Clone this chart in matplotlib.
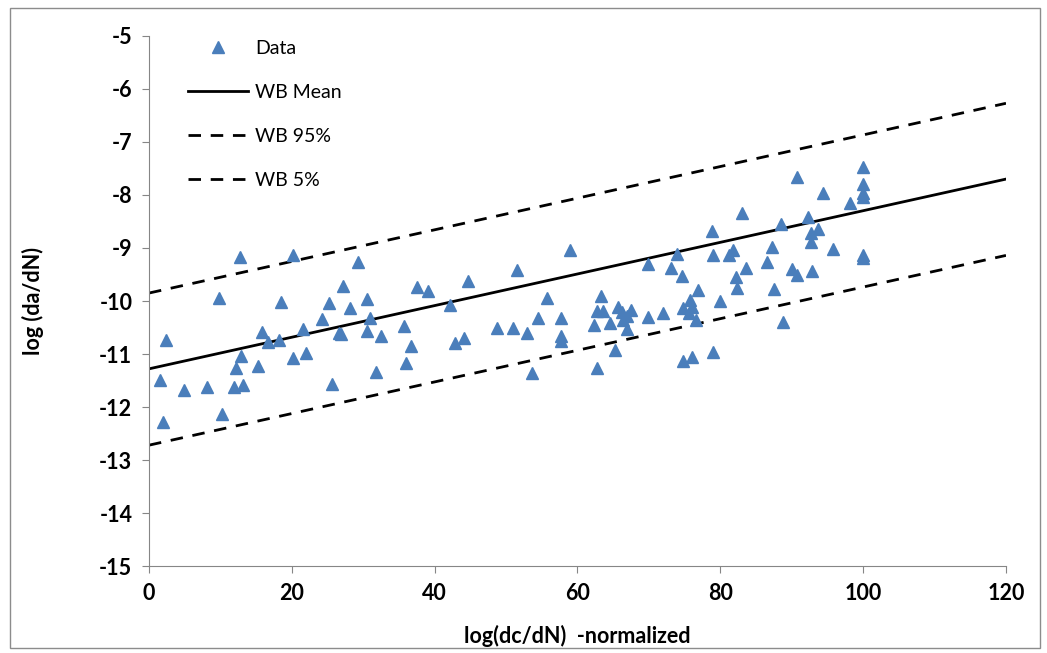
import matplotlib
matplotlib.use('Agg')
import matplotlib.pyplot as plt
from matplotlib.patches import Rectangle

plt.rcParams['font.family'] = ['Lato', 'DejaVu Sans']
plt.rcParams['axes.unicode_minus'] = False

# scatter data
data_x = [12.7, 20.1, 9.8, 18.5, 2.4, 15.8, 16.7, 18.2, 12.9, 20.1,
          12.2, 15.3, 1.5, 4.9, 8.1, 11.9, 13.2, 10.2, 2.0,
          29.3, 27.2, 37.5, 39.1, 25.2, 28.1, 30.5, 24.2, 30.9, 21.6, 26.6,
          26.9, 30.5, 32.5, 35.7, 22.0, 36.7, 36.0, 31.8, 25.6,
          58.9, 51.5, 44.7, 42.1, 55.7, 54.5, 57.7, 48.7, 51.0, 52.9,
          57.7, 57.7, 42.8, 44.1, 53.6,
          63.3, 69.9, 73.9, 73.1, 74.6, 79.0, 81.2, 81.8, 82.2, 82.3,
          76.9, 79.9, 75.7, 74.8, 75.6, 76.0, 76.6, 62.7, 63.6, 62.3,
          64.5, 65.7, 66.2, 66.4, 66.9, 67.5, 66.9, 69.9, 72.0, 65.2,
          62.7, 74.8, 76.0, 79.0, 78.8,
          90.7, 100.0, 100.0, 100.0, 100.0, 94.4, 98.2, 83.0, 88.5, 92.3,
          93.7, 92.7, 92.7, 87.2, 95.8, 100.0, 100.0, 86.5, 83.6, 90.0,
          90.7, 92.8, 87.5, 88.8]
data_y = [-9.17, -9.13, -9.94, -10.02, -10.74, -10.58, -10.77, -10.74, -11.04, -11.08,
          -11.26, -11.23, -11.49, -11.68, -11.62, -11.62, -11.58, -12.13, -12.28,
          -9.26, -9.72, -9.73, -9.81, -10.04, -10.13, -9.96, -10.34, -10.32, -10.53, -10.60,
          -10.62, -10.57, -10.66, -10.47, -10.98, -10.85, -11.17, -11.34, -11.57,
          -9.04, -9.42, -9.62, -10.08, -9.94, -10.32, -10.32, -10.51, -10.51, -10.60,
          -10.66, -10.75, -10.79, -10.70, -11.36,
          -9.91, -9.30, -9.11, -9.38, -9.53, -9.13, -9.13, -9.04, -9.55, -9.75,
          -9.79, -10.00, -9.98, -10.13, -10.23, -10.11, -10.36, -10.19, -10.19, -10.45,
          -10.41, -10.11, -10.21, -10.36, -10.28, -10.17, -10.53, -10.30, -10.22, -10.92,
          -11.26, -11.13, -11.06, -10.96, -8.68,
          -7.66, -7.47, -7.79, -7.96, -8.04, -7.96, -8.15, -8.34, -8.55, -8.41,
          -8.64, -8.72, -8.89, -8.98, -9.02, -9.13, -9.19, -9.26, -9.38, -9.40,
          -9.51, -9.43, -9.77, -10.40]

# fitted lines (end points)
line_x = [0, 120]
mean_y = [-11.28, -7.70]
upper_y = [-9.85, -6.27]
lower_y = [-12.72, -9.14]

fig = plt.figure(figsize=(10.47, 6.53), dpi=100)
ax1 = fig.add_axes([0.1423, 0.1332, 0.8185, 0.8117])

# outer chart border
fig.patches.append(Rectangle((0.0095, 0.008), 0.984, 0.98, transform=fig.transFigure,
                             fill=False, edgecolor='#8c8c8c', linewidth=1))

ax1.plot(data_x, data_y, '^', color='#4a7ebb', markersize=8.5, linestyle='None',
         label='Data', zorder=3)
ax1.plot(line_x, mean_y, '-', color='k', linewidth=2, label='WB Mean')
ax1.plot(line_x, upper_y, color='k', linewidth=2, dashes=(4.5, 3.5), label='WB 95%')
ax1.plot(line_x, lower_y, color='k', linewidth=2, dashes=(4.5, 3.5), label='WB 5%')

ax1.set_xlim(0, 120)
ax1.set_ylim(-15, -5)
ax1.set_xticks(range(0, 121, 20))
ax1.set_yticks(range(-15, -4, 1))

ax1.spines['top'].set_visible(False)
ax1.spines['right'].set_visible(False)
ax1.spines['left'].set_color('#868686')
ax1.spines['bottom'].set_color('#868686')
ax1.tick_params(direction='out', length=5, color='#868686', labelsize=15.5, pad=7)
for label in ax1.get_xticklabels() + ax1.get_yticklabels():
    label.set_fontweight('bold')

ax1.set_xlabel('log(dc/dN)  -normalized', fontsize=15.5, fontweight='bold', labelpad=15)
ax1.set_ylabel('log (da/dN)', fontsize=15.5, fontweight='bold', labelpad=40)

leg = ax1.legend(loc='upper left', bbox_to_anchor=(0.025, 1.025), frameon=False,
                 fontsize=14, labelspacing=1.38, handlelength=3.1, handletextpad=0.35)

plt.savefig('out.png', dpi=100)
